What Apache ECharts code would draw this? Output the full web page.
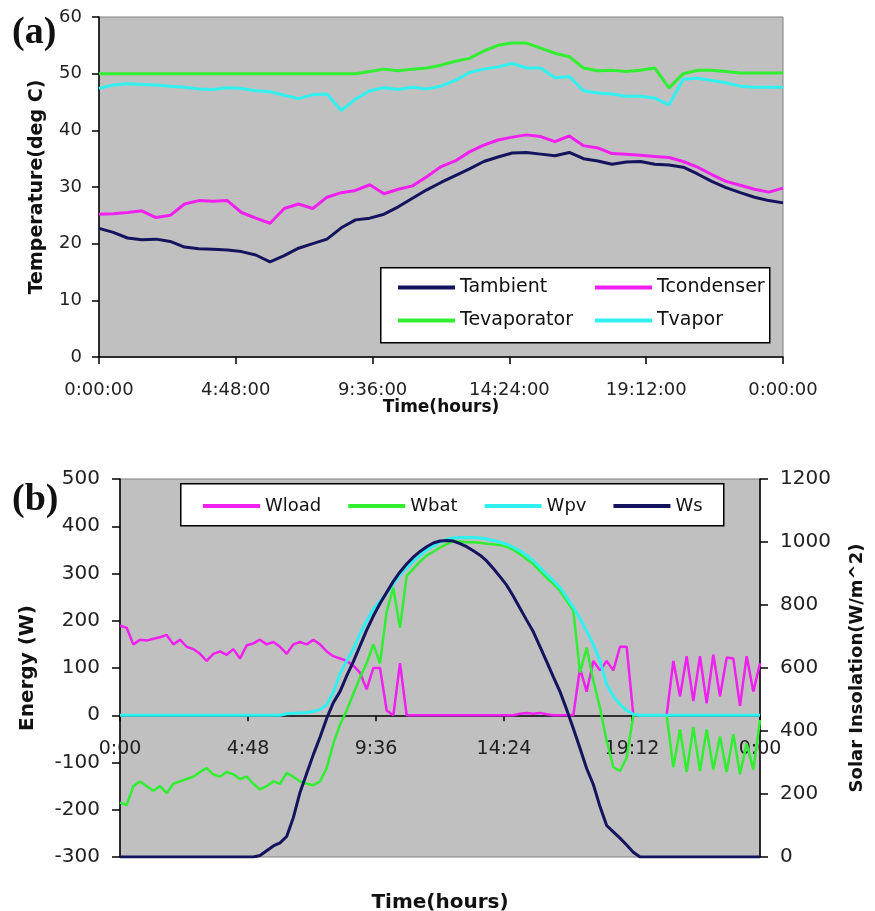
<!DOCTYPE html>
<html>
<head>
<meta charset="utf-8">
<script src="https://cdn.jsdelivr.net/npm/echarts@6/dist/echarts.min.js"></script>
<style>
html, body { margin: 0; padding: 0; background: #fff; }
#chart { width: 875px; height: 911px; }
</style>
</head>
<body>
<div id="chart"></div>
<script>
// (a) temperatures, one reading every 30 min over the day
var hoursA = [];
for (var i = 0; i <= 48; i++) hoursA.push(i * 0.5);

var tAmbient = [22.7, 22.0, 21.0, 20.7, 20.8, 20.4, 19.4, 19.1, 19.0, 18.9,
    18.6, 18.0, 16.8, 17.9, 19.2, 20.0, 20.8, 22.8, 24.2, 24.5,
    25.2, 26.5, 28.0, 29.5, 30.8, 32.0, 33.2, 34.5, 35.3, 36.0,
    36.1, 35.8, 35.5, 36.1, 35.0, 34.6, 34.0, 34.4, 34.5, 34.0,
    33.9, 33.5, 32.3, 31.0, 29.9, 29.0, 28.2, 27.6, 27.2];
var tCondenser = [25.2, 25.3, 25.5, 25.8, 24.6, 25.0, 27.0, 27.6, 27.5, 27.6,
    25.5, 24.5, 23.6, 26.2, 27.0, 26.2, 28.2, 29.0, 29.4, 30.4,
    28.8, 29.6, 30.2, 31.8, 33.6, 34.6, 36.2, 37.4, 38.3, 38.8,
    39.2, 38.9, 38.0, 39.0, 37.3, 36.9, 35.9, 35.8, 35.6, 35.4,
    35.2, 34.5, 33.5, 32.2, 31.0, 30.3, 29.6, 29.1, 29.8];
var tEvaporator = [50.0, 50.0, 50.0, 50.0, 50.0, 50.0, 50.0, 50.0, 50.0, 50.0,
    50.0, 50.0, 50.0, 50.0, 50.0, 50.0, 50.0, 50.0, 50.0, 50.4,
    50.8, 50.5, 50.8, 51.0, 51.5, 52.2, 52.7, 54.0, 55.0, 55.4,
    55.4, 54.5, 53.6, 53.0, 51.0, 50.5, 50.6, 50.4, 50.6, 51.0,
    47.5, 50.0, 50.6, 50.6, 50.4, 50.1, 50.1, 50.1, 50.1];
var tVapor = [47.4, 48.0, 48.2, 48.1, 48.0, 47.8, 47.6, 47.3, 47.2, 47.5,
    47.4, 47.0, 46.8, 46.2, 45.6, 46.3, 46.4, 43.5, 45.5, 47.0,
    47.5, 47.2, 47.6, 47.3, 47.8, 48.8, 50.2, 50.8, 51.2, 51.8,
    51.0, 51.0, 49.3, 49.5, 47.0, 46.6, 46.4, 46.0, 46.0, 45.7,
    44.5, 49.0, 49.2, 48.8, 48.4, 47.8, 47.6, 47.6, 47.6];

// (b) energy flows, one reading every 15 min
var hoursB = [];
for (var j = 0; j <= 96; j++) hoursB.push(j * 0.25);

var wLoad = [190, 185, 150, 160, 158, 162, 165, 170, 150, 160,
    145, 140, 130, 115, 130, 135, 128, 140, 120, 148,
    152, 160, 150, 155, 145, 130, 150, 155, 150, 160,
    150, 135, 125, 120, 115, 105, 90, 55, 100, 100,
    10, 0, 110, 0, 0, 0, 0, 0, 0, 0,
    0, 0, 0, 0, 0, 0, 0, 0, 0, 0,
    3, 5, 3, 5, 2, 0, 0, 0, 0, 100,
    50, 115, 95, 115, 95, 145, 145, 0, 0, 0,
    0, 0, 0, 115, 40, 125, 30, 125, 25, 128,
    40, 122, 120, 20, 125, 50, 110];
var wBat = [-185, -190, -150, -140, -150, -160, -150, -165, -145, -140,
    -135, -130, -120, -112, -125, -130, -120, -125, -135, -130,
    -145, -157, -150, -140, -145, -122, -130, -140, -145, -148,
    -140, -112, -60, -20, 10, 45, 80, 110, 150, 110,
    220, 270, 185, 295, 310, 325, 338, 346, 355, 362,
    368, 368, 366, 366, 365, 363, 362, 360, 357, 350,
    341, 330, 320, 305, 291, 278, 263, 242, 221, 90,
    143, 73, 16, -54, -110, -118, -90, 0, 0, 0,
    0, 0, 0, -110, -30, -120, -25, -118, -30, -115,
    -45, -120, -40, -125, -60, -115, -10];
var wPv = [0, 0, 0, 0, 0, 0, 0, 0, 0, 0,
    0, 0, 0, 0, 0, 0, 0, 0, 0, 0,
    0, 0, 0, 0, 0, 3, 4, 5, 6, 8,
    12, 22, 48, 88, 115, 140, 172, 200, 225, 242,
    258, 278, 297, 312, 326, 338, 350, 358, 366, 372,
    375, 376, 376, 376, 375, 373, 370, 366, 362, 355,
    348, 338, 327, 313, 298, 285, 270, 250, 228, 205,
    178, 150, 115, 65, 40, 23, 10, 2, 0, 0,
    0, 0, 0, 0, 0, 0, 0, 0, 0, 0,
    0, 0, 0, 0, 0, 0, 0];
var wS = [0, 0, 0, 0, 0, 0, 0, 0, 0, 0,
    0, 0, 0, 0, 0, 0, 0, 0, 0, 0,
    0, 5, 20, 35, 45, 65, 125, 205, 265, 325,
    380, 440, 490, 525, 575, 620, 670, 720, 765, 805,
    840, 875, 905, 930, 952, 970, 985, 997, 1003, 1005,
    1003, 995, 985, 972, 958, 940, 916, 890, 863, 828,
    790, 752, 715, 668, 620, 572, 525, 468, 408, 345,
    281, 230, 160, 100, 80, 60, 38, 15, 0, 0,
    0, 0, 0, 0, 0, 0, 0, 0, 0, 0,
    0, 0, 0, 0, 0, 0, 0];

var FONT = '"DejaVu Sans", sans-serif';
var NAVY = '#14145e', MAGENTA = '#f020f0', GREEN = '#30ee30', CYAN = '#30f0f0';

function pairs(xs, ys) {
    return ys.map(function(v, k) { return [xs[k], v]; });
}

// 4.8 -> 4:48, 24 -> 0:00
function clock(v, withSeconds) {
    var m = Math.round(v * 60) % 1440;
    var mm = m % 60;
    var s = Math.floor(m / 60) + ':' + (mm < 10 ? '0' : '') + mm;
    return withSeconds ? s + ':00' : s;
}

function plain(v) {
    return String(v);
}

function lineSeries(name, x, y, color, xi, yi, width) {
    return {
        name: name,
        type: 'line',
        xAxisIndex: xi,
        yAxisIndex: yi,
        data: pairs(x, y),
        color: color,
        showSymbol: false,
        symbol: 'none',
        lineStyle: { color: color, width: width },
        emphasis: { disabled: true }
    };
}

var axisBlack = { show: true, onZero: false, lineStyle: { color: '#000', width: 1.5 } };
var tickBlack = { show: true, length: 7, lineStyle: { color: '#000', width: 1.5 } };

var chart = echarts.init(document.getElementById('chart'));

var option = {
    animation: false,
    grid: [
        {
            left: 99, top: 17, width: 684, height: 340,
            outerBoundsMode: 'none',
            show: true, backgroundColor: '#c0c0c0', borderColor: '#808080', borderWidth: 1
        },
        {
            left: 120, top: 479, width: 640, height: 378,
            outerBoundsMode: 'none',
            show: true, backgroundColor: '#c0c0c0', borderColor: '#808080', borderWidth: 1
        }
    ],
    xAxis: [
        {
            gridIndex: 0,
            type: 'value',
            min: 0, max: 24, interval: 4.8,
            axisLine: axisBlack,
            axisTick: tickBlack,
            splitLine: { show: false },
            axisLabel: {
                margin: 24, fontSize: 18, fontFamily: FONT, color: '#222',
                formatter: function(v) { return clock(v, true); }
            },
            name: 'Time(hours)',
            nameLocation: 'middle',
            nameGap: 42,
            nameMoveOverlap: false,
            nameTextStyle: { fontFamily: FONT, fontWeight: 'bold', fontSize: 17, color: '#111' }
        },
        {
            // sits on the 0 W line: lifted from the grid bottom by 300/800 of its height
            gridIndex: 1,
            type: 'value',
            min: 0, max: 24, interval: 4.8,
            offset: -141.75,
            axisLine: axisBlack,
            axisTick: { show: true, length: 6, lineStyle: { color: '#000', width: 1.5 } },
            splitLine: { show: false },
            axisLabel: {
                margin: 24, fontSize: 19, fontFamily: FONT, color: '#222',
                formatter: function(v) { return clock(v, false); }
            },
            name: 'Time(hours)',
            nameLocation: 'middle',
            nameGap: 178,
            nameMoveOverlap: false,
            nameTextStyle: { fontFamily: FONT, fontWeight: 'bold', fontSize: 20, color: '#111' }
        }
    ],
    yAxis: [
        {
            gridIndex: 0,
            type: 'value',
            min: 0, max: 60, interval: 10,
            axisLine: axisBlack,
            axisTick: tickBlack,
            splitLine: { show: false },
            axisLabel: { margin: 17, fontSize: 18, fontFamily: FONT, color: '#222', formatter: plain },
            name: 'Temperature(deg C)',
            nameLocation: 'middle',
            nameRotate: 90,
            nameGap: 52,
            nameMoveOverlap: false,
            nameTextStyle: { fontFamily: FONT, fontWeight: 'bold', fontSize: 19, color: '#111' }
        },
        {
            gridIndex: 1,
            type: 'value',
            position: 'left',
            min: -300, max: 500, interval: 100,
            axisLine: axisBlack,
            axisTick: { show: true, length: 8, lineStyle: { color: '#000', width: 1.5 } },
            splitLine: { show: false },
            axisLabel: { margin: 20, fontSize: 20, fontFamily: FONT, color: '#222', formatter: plain },
            name: 'Energy (W)',
            nameLocation: 'middle',
            nameRotate: 90,
            nameGap: 82,
            nameMoveOverlap: false,
            nameTextStyle: { fontFamily: FONT, fontWeight: 'bold', fontSize: 20, color: '#111' }
        },
        {
            gridIndex: 1,
            type: 'value',
            position: 'right',
            min: 0, max: 1200, interval: 200,
            axisLine: axisBlack,
            axisTick: { show: true, length: 8, lineStyle: { color: '#000', width: 1.5 } },
            splitLine: { show: false },
            axisLabel: { margin: 20, fontSize: 20, fontFamily: FONT, color: '#222', formatter: plain },
            name: 'Solar Insolation(W/m^2)',
            nameLocation: 'middle',
            nameRotate: 90,
            nameGap: 88,
            nameMoveOverlap: false,
            nameTextStyle: { fontFamily: FONT, fontWeight: 'bold', fontSize: 18, color: '#111' }
        }
    ],
    legend: [
        {
            left: 393, top: 273, orient: 'vertical',
            data: ['Tambient', 'Tevaporator'],
            icon: 'rect', itemWidth: 57, itemHeight: 4, itemGap: 14,
            selectedMode: false,
            textStyle: { fontFamily: FONT, fontSize: 19, color: '#111' }
        },
        {
            left: 590, top: 273, orient: 'vertical',
            data: ['Tcondenser', 'Tvapor'],
            icon: 'rect', itemWidth: 57, itemHeight: 4, itemGap: 14,
            selectedMode: false,
            textStyle: { fontFamily: FONT, fontSize: 19, color: '#111' }
        },
        {
            left: 198, top: 492, orient: 'horizontal',
            data: ['Wload', 'Wbat', 'Wpv', 'Ws'],
            icon: 'rect', itemWidth: 57, itemHeight: 4, itemGap: 27,
            selectedMode: false,
            textStyle: { fontFamily: FONT, fontSize: 18, color: '#111' }
        }
    ],
    graphic: [
        {
            type: 'rect', left: 380, top: 267, z: 3,
            shape: { width: 389, height: 75 },
            style: { fill: '#fff', stroke: '#000', lineWidth: 1.5 }
        },
        {
            type: 'rect', left: 180, top: 483, z: 3,
            shape: { width: 543, height: 42 },
            style: { fill: '#fff', stroke: '#000', lineWidth: 1.5 }
        },
        {
            type: 'text', left: 12, top: 14,
            style: { text: '(a)', font: 'bold 38px "Liberation Serif"', fill: '#111' }
        },
        {
            type: 'text', left: 12, top: 481,
            style: { text: '(b)', font: 'bold 38px "Liberation Serif"', fill: '#111' }
        }
    ],
    series: [
        lineSeries('Tambient', hoursA, tAmbient, NAVY, 0, 0, 3),
        lineSeries('Tcondenser', hoursA, tCondenser, MAGENTA, 0, 0, 3),
        lineSeries('Tevaporator', hoursA, tEvaporator, GREEN, 0, 0, 3),
        lineSeries('Tvapor', hoursA, tVapor, CYAN, 0, 0, 3),
        lineSeries('Wload', hoursB, wLoad, MAGENTA, 1, 1, 2.5),
        lineSeries('Wbat', hoursB, wBat, GREEN, 1, 1, 2.5),
        lineSeries('Wpv', hoursB, wPv, CYAN, 1, 1, 3),
        lineSeries('Ws', hoursB, wS, NAVY, 1, 2, 3)
    ]
};

chart.setOption(option);
</script>
</body>
</html>
